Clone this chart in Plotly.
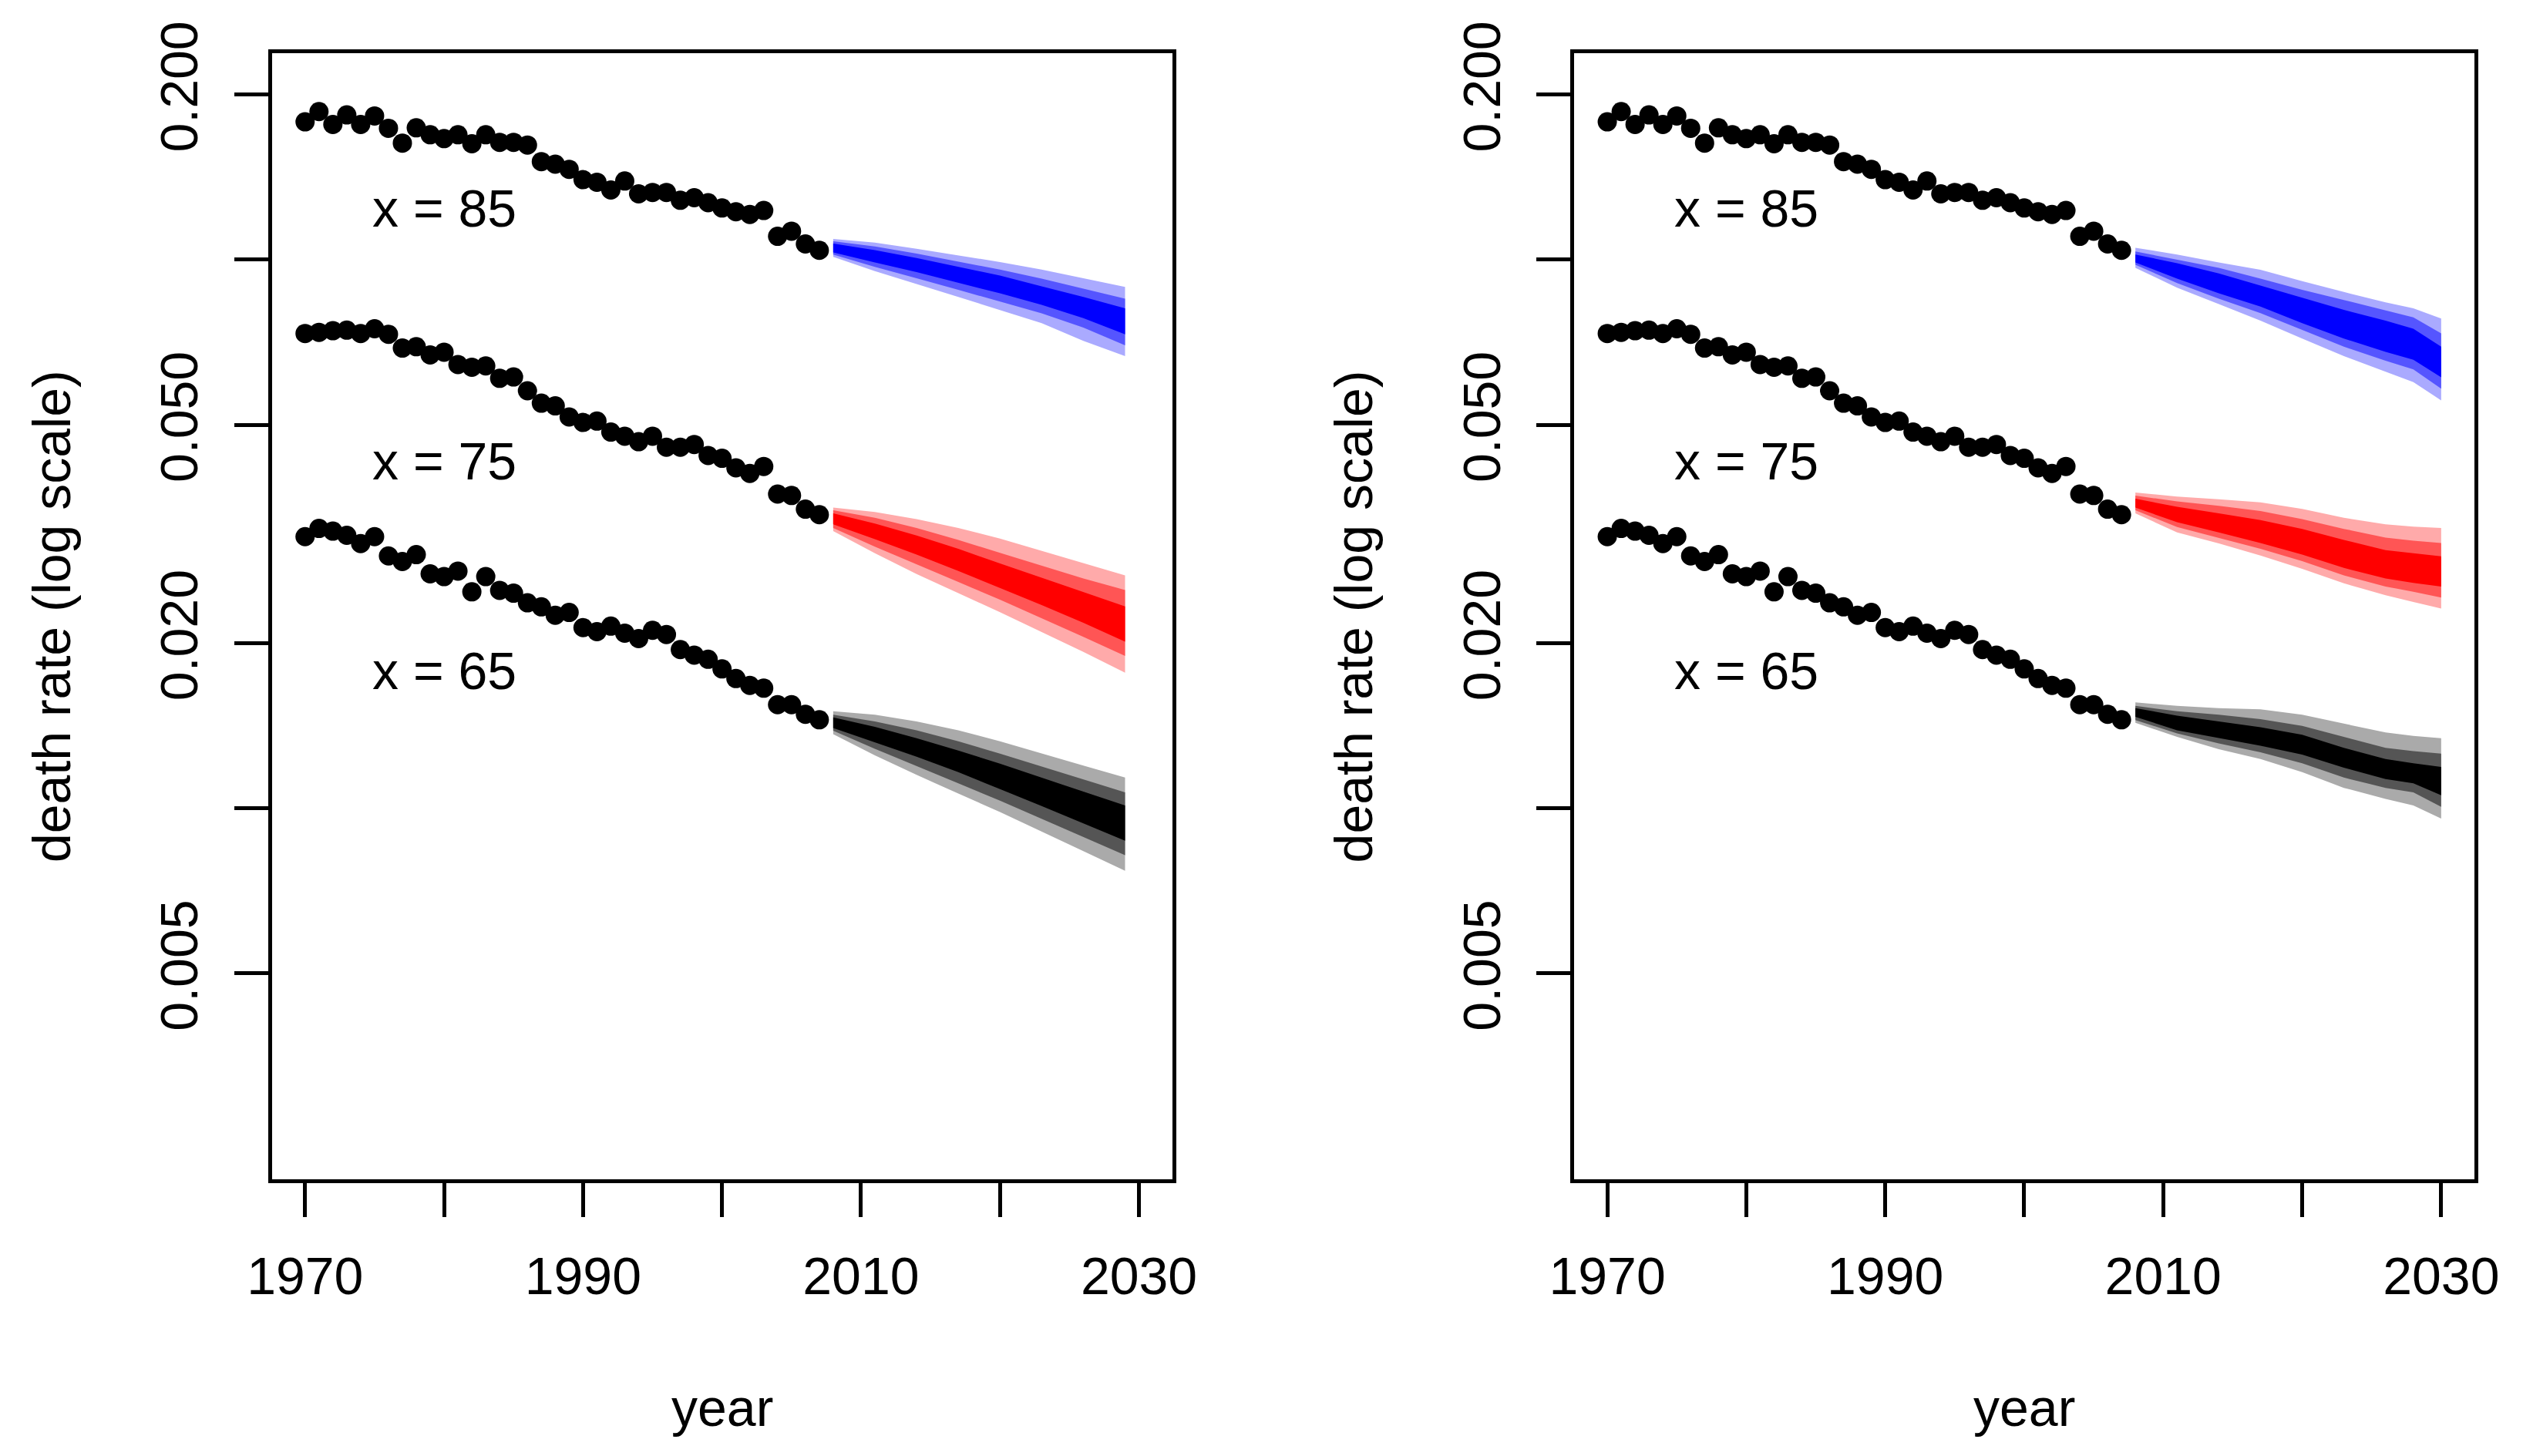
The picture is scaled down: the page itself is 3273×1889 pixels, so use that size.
import math
import plotly.graph_objects as go

# ---------------- data ----------------
years_obs = list(range(1970, 2008))

rate_85 = [0.1783, 0.1862, 0.1764, 0.1836, 0.1764, 0.1828, 0.1736, 0.1631, 0.1739, 0.1689,
           0.1662, 0.1689, 0.1627, 0.1689, 0.1636, 0.1636, 0.1618, 0.1509, 0.1493, 0.1461,
           0.1399, 0.1384, 0.1340, 0.1391, 0.1318, 0.1326, 0.1326, 0.1283, 0.1297, 0.1270,
           0.1242, 0.1223, 0.1209, 0.1229, 0.1103, 0.1127, 0.1068, 0.1040]

rate_75 = [0.07335, 0.07369, 0.07420, 0.07437, 0.07335, 0.07482, 0.07310, 0.06899, 0.06939, 0.06704,
           0.06781, 0.06438, 0.06364, 0.06401, 0.06076, 0.06111, 0.05767, 0.05474, 0.05412, 0.05167,
           0.05049, 0.05078, 0.04849, 0.04766, 0.04657, 0.04766, 0.04550, 0.04550, 0.04603, 0.04395,
           0.04344, 0.04173, 0.04077, 0.04197, 0.03738, 0.03716, 0.03508, 0.03428]

rate_65 = [0.03126, 0.03236, 0.03199, 0.03144, 0.03037, 0.03126, 0.02883, 0.02817, 0.02899, 0.02674,
           0.02643, 0.02705, 0.02480, 0.02643, 0.02495, 0.02466, 0.02368, 0.02328, 0.02248, 0.02274,
           0.02134, 0.02098, 0.02147, 0.02085, 0.02038, 0.02110, 0.02073, 0.01946, 0.01901, 0.01868,
           0.01794, 0.01723, 0.01674, 0.01655, 0.01544, 0.01544, 0.01483, 0.01449]

# left panel forecast fans (50 / 80 / 95 % intervals)
fan_years_left = [2008, 2011, 2014, 2017, 2020, 2023, 2026, 2029]
left85_hi95 = [0.1091, 0.1074, 0.1047, 0.1018, 0.0990, 0.0959, 0.0926, 0.0892]
left85_hi80 = [0.1080, 0.1057, 0.1026, 0.0992, 0.0959, 0.0923, 0.0886, 0.0849]
left85_hi50 = [0.1070, 0.1041, 0.1007, 0.0970, 0.0935, 0.0894, 0.0855, 0.0815]
left85_lo50 = [0.1031, 0.0988, 0.0949, 0.0908, 0.0868, 0.0827, 0.0782, 0.0731]
left85_lo80 = [0.1022, 0.0970, 0.0925, 0.0881, 0.0839, 0.0798, 0.0752, 0.0698]
left85_lo95 = [0.1012, 0.0953, 0.0903, 0.0855, 0.0810, 0.0766, 0.0711, 0.0667]

left75_hi95 = [0.03531, 0.03467, 0.03364, 0.03242, 0.03100, 0.02943, 0.02794, 0.02657]
left75_hi80 = [0.03492, 0.03384, 0.03242, 0.03083, 0.02921, 0.02767, 0.02622, 0.02499]
left75_hi50 = [0.03447, 0.03303, 0.03141, 0.02970, 0.02794, 0.02632, 0.02480, 0.02333]
left75_lo50 = [0.03291, 0.03094, 0.02899, 0.02707, 0.02522, 0.02346, 0.02178, 0.02011]
left75_lo80 = [0.03242, 0.02998, 0.02783, 0.02584, 0.02399, 0.02219, 0.02052, 0.01895]
left75_lo95 = [0.03200, 0.02915, 0.02672, 0.02466, 0.02277, 0.02095, 0.01927, 0.01766]

left65_hi95 = [0.01502, 0.01480, 0.01439, 0.01387, 0.01324, 0.01257, 0.01196, 0.01137]
left65_hi80 = [0.01480, 0.01439, 0.01387, 0.01324, 0.01257, 0.01191, 0.01128, 0.01069]
left65_hi50 = [0.01464, 0.01407, 0.01341, 0.01274, 0.01205, 0.01137, 0.01073, 0.01011]
left65_lo50 = [0.01400, 0.01319, 0.01241, 0.01163, 0.01083, 0.01009, 0.00939, 0.00872]
left65_lo80 = [0.01384, 0.01283, 0.01193, 0.01110, 0.01032, 0.00957, 0.00886, 0.00821]
left65_lo95 = [0.01364, 0.01248, 0.01150, 0.01063, 0.00984, 0.00906, 0.00835, 0.00769]

# right panel forecast fans
fan_years_right = [2008, 2011, 2014, 2017, 2020, 2023, 2026, 2028, 2030]
right85_hi95 = [0.1051, 0.1022, 0.0988, 0.0958, 0.0914, 0.0873, 0.0836, 0.0815, 0.0781]
right85_hi80 = [0.1035, 0.0999, 0.0966, 0.0923, 0.0881, 0.0844, 0.0807, 0.0785, 0.0734]
right85_hi50 = [0.1022, 0.0985, 0.0944, 0.0897, 0.0852, 0.0810, 0.0774, 0.0748, 0.0694]
right85_lo50 = [0.0988, 0.0923, 0.0868, 0.0821, 0.0766, 0.0718, 0.0679, 0.0657, 0.0610]
right85_lo80 = [0.0979, 0.0906, 0.0849, 0.0799, 0.0745, 0.0694, 0.0654, 0.0631, 0.0582]
right85_lo95 = [0.0966, 0.0889, 0.0830, 0.0774, 0.0718, 0.0667, 0.0625, 0.0598, 0.0554]

right75_hi95 = [0.03762, 0.03699, 0.03658, 0.03611, 0.03512, 0.03384, 0.03291, 0.03260, 0.03242]
right75_hi80 = [0.03713, 0.03624, 0.03558, 0.03480, 0.03364, 0.03230, 0.03113, 0.03073, 0.03044]
right75_hi50 = [0.03665, 0.03544, 0.03447, 0.03352, 0.03230, 0.03083, 0.02953, 0.02915, 0.02878]
right75_lo50 = [0.03531, 0.03322, 0.03182, 0.03044, 0.02899, 0.02742, 0.02622, 0.02575, 0.02536]
right75_lo80 = [0.03492, 0.03255, 0.03113, 0.02970, 0.02820, 0.02657, 0.02536, 0.02480, 0.02421]
right75_lo95 = [0.03447, 0.03182, 0.03038, 0.02888, 0.02732, 0.02570, 0.02444, 0.02377, 0.02312]

right65_hi95 = [0.01559, 0.01536, 0.01522, 0.01514, 0.01480, 0.01427, 0.01374, 0.01354, 0.01341]
right65_hi80 = [0.01536, 0.01502, 0.01480, 0.01453, 0.01413, 0.01349, 0.01288, 0.01271, 0.01257]
right65_hi50 = [0.01522, 0.01475, 0.01439, 0.01405, 0.01361, 0.01288, 0.01229, 0.01207, 0.01189]
right65_lo50 = [0.01467, 0.01387, 0.01344, 0.01300, 0.01252, 0.01185, 0.01130, 0.01110, 0.01056]
right65_lo80 = [0.01447, 0.01369, 0.01312, 0.01264, 0.01207, 0.01137, 0.01089, 0.01069, 0.01006]
right65_lo95 = [0.01431, 0.01349, 0.01281, 0.01229, 0.01163, 0.01089, 0.01040, 0.01011, 0.00957]

x_tickvals = [1970, 1980, 1990, 2000, 2010, 2020, 2030]
x_ticktext = ["1970", "", "1990", "", "2010", "", "2030"]
y_tickvals = [0.005, 0.01, 0.02, 0.05, 0.1, 0.2]
y_ticktext = ["0.005", "", "0.020", "0.050", "", "0.200"]

age_labels = ["x = 85", "x = 75", "x = 65"]
age_label_year = 1980
age_label_rate = [0.1242, 0.0430, 0.0178]

# ---------------- styling ----------------
W, H = 3273, 1889
FONT = "Liberation Sans, Arial, sans-serif"
FS = 68
LW = 5
fan_colors = {
    "85": ["#AAAAFF", "#5555FF", "#0000FF"],
    "75": ["#FFAAAA", "#FF5555", "#FF0000"],
    "65": ["#AAAAAA", "#555555", "#000000"],
}

fig = go.Figure()


def add_fan(years, bands, colors, xa, ya):
    # bands: list of (lo, hi) from widest to narrowest
    for (lo, hi), col in zip(bands, colors):
        fig.add_trace(go.Scatter(
            x=list(years) + list(years)[::-1],
            y=list(hi) + list(lo)[::-1],
            fill="toself", fillcolor=col, mode="lines",
            line=dict(width=0, color=col), hoverinfo="skip",
            xaxis=xa, yaxis=ya, showlegend=False))


panels = [
    ("x", "y", fan_years_left, {
        "85": [(left85_lo95, left85_hi95), (left85_lo80, left85_hi80), (left85_lo50, left85_hi50)],
        "75": [(left75_lo95, left75_hi95), (left75_lo80, left75_hi80), (left75_lo50, left75_hi50)],
        "65": [(left65_lo95, left65_hi95), (left65_lo80, left65_hi80), (left65_lo50, left65_hi50)],
    }),
    ("x2", "y2", fan_years_right, {
        "85": [(right85_lo95, right85_hi95), (right85_lo80, right85_hi80), (right85_lo50, right85_hi50)],
        "75": [(right75_lo95, right75_hi95), (right75_lo80, right75_hi80), (right75_lo50, right75_hi50)],
        "65": [(right65_lo95, right65_hi95), (right65_lo80, right65_hi80), (right65_lo50, right65_hi50)],
    }),
]

for xa, ya, fyears, fans in panels:
    for series in (rate_85, rate_75, rate_65):
        fig.add_trace(go.Scatter(
            x=years_obs, y=series, mode="markers",
            marker=dict(size=25, color="black", line=dict(width=0)),
            xaxis=xa, yaxis=ya, showlegend=False, hoverinfo="skip"))
    for key in ("85", "75", "65"):
        add_fan(fyears, fans[key], fan_colors[key], xa, ya)
    for txt, r in zip(age_labels, age_label_rate):
        fig.add_annotation(x=age_label_year, y=math.log10(r), xref=xa, yref=ya,
                           text=txt, showarrow=False, xanchor="center", yanchor="middle",
                           font=dict(family=FONT, size=FS, color="black"))

# geometry (pixels -> paper)
box_top, box_bot = 69.2, 1530.0
left_x0, left_x1 = 352.5, 1520.8
right_x0, right_x1 = 2041.8, 3210.1
ydom = [1 - box_bot / H, 1 - box_top / H]

common_x = dict(range=[1967.6, 2032.4], tickvals=x_tickvals, ticktext=x_ticktext,
                ticks="outside", ticklen=44, tickwidth=LW, tickcolor="black",
                showline=True, linewidth=LW, linecolor="black", mirror=True,
                showgrid=False, zeroline=False, ticklabelstandoff=18, automargin=False,
                tickfont=dict(family=FONT, size=FS, color="black"))
common_y = dict(type="log", range=[-2.6766, -0.6239], tickvals=y_tickvals, ticktext=y_ticktext,
                ticks="outside", ticklen=44, tickwidth=LW, tickcolor="black", tickangle=-90,
                showline=True, linewidth=LW, linecolor="black", mirror=True,
                showgrid=False, zeroline=False, ticklabelstandoff=20, automargin=False,
                tickfont=dict(family=FONT, size=FS, color="black"))

fig.update_layout(
    width=W, height=H,
    margin=dict(l=0, r=0, t=0, b=0, autoexpand=False),
    paper_bgcolor="white", plot_bgcolor="white",
    showlegend=False,
    xaxis=dict(domain=[left_x0 / W, left_x1 / W], anchor="y", **common_x),
    yaxis=dict(domain=ydom, anchor="x", **common_y),
    xaxis2=dict(domain=[right_x0 / W, right_x1 / W], anchor="y2", **common_x),
    yaxis2=dict(domain=ydom, anchor="x2", **common_y),
)

# axis titles
for x0, x1 in ((left_x0, left_x1), (right_x0, right_x1)):
    fig.add_annotation(x=((x0 + x1) / 2) / W, y=1 - 1826 / H, xref="paper", yref="paper",
                       text="year", showarrow=False, xanchor="center", yanchor="middle",
                       font=dict(family=FONT, size=FS, color="black"))
    fig.add_annotation(x=(x0 - 286) / W, y=1 - ((box_top + box_bot) / 2) / H,
                       xref="paper", yref="paper", text="death rate (log scale)",
                       textangle=-90, showarrow=False, xanchor="center", yanchor="middle",
                       font=dict(family=FONT, size=FS, color="black"))

fig.write_html("out.html", config={"displayModeBar": False},
               post_script="document.body.style.margin='0px';")
